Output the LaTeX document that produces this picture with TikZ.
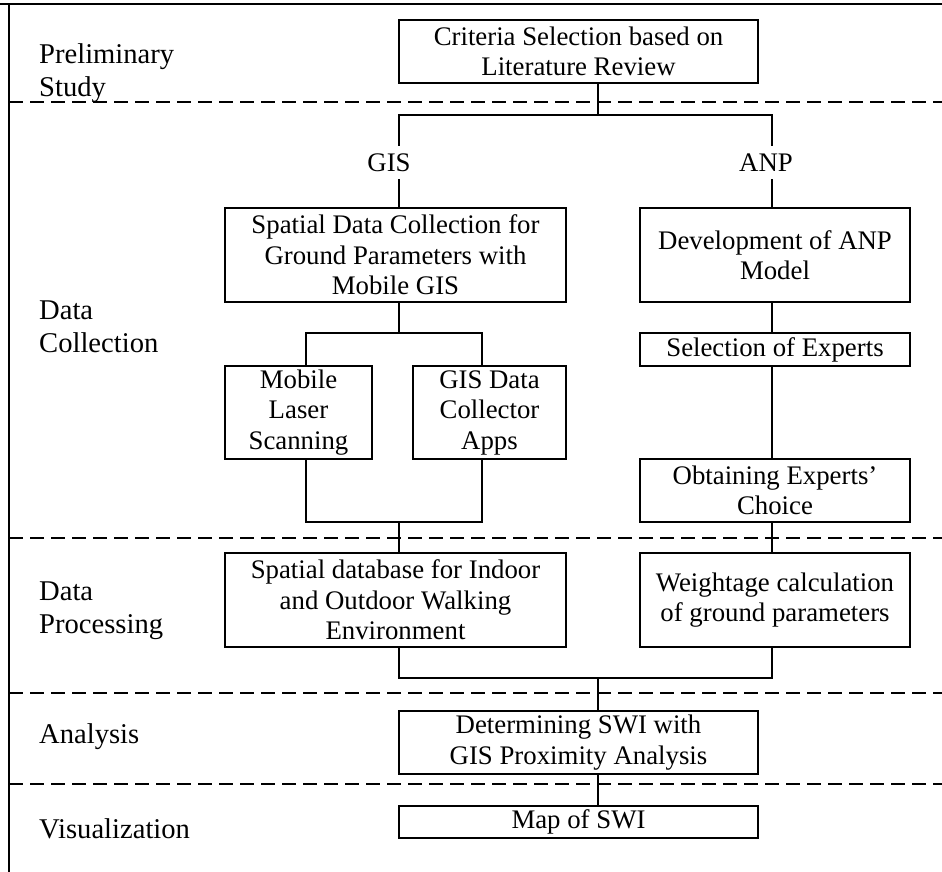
\documentclass[tikz,border=0pt]{standalone}
\usepackage{fontspec}
\setmainfont{Liberation Serif}

\tikzset{
  procbox/.style={draw, line width=1.8pt, inner sep=0pt, align=center},
  lbl/.style={inner xsep=4pt, inner ysep=8pt, text height=17.5pt, text depth=0pt},
  stage/.style={anchor=west, align=left, inner sep=0pt, font=\fontsize{28.6}{33}\selectfont},
  link/.style={line width=1.5pt},
  sepline/.style={line width=2.2pt, dash pattern=on 14pt off 7pt}
}

\begin{document}
\begin{tikzpicture}[x=1pt, y=-1pt, font=\fontsize{26.8}{30.5}\selectfont]
        \useasboundingbox (0,0) rectangle (942,872);

        % Frame and stage separators
        \draw[line width=1.8pt] (0,4) -- (942,4);
        \draw[line width=1.8pt] (9,4) -- (9,872);
        \foreach \y in {102,538,693,784}
            \draw[sepline] (9,\y) -- (942,\y);

        % Stage labels
        \node (lprelim) [stage] at (39, 73.5) {Preliminary\\Study};
        \node (lcoll) [stage] at (39, 327) {Data\\Collection};
        \node (lproc) [stage] at (39, 610.5) {Data\\Processing};
        \node (lanal) [stage, anchor=base west] at (39, 743) {Analysis};
        \node (lvis) [stage, anchor=base west] at (39, 838) {Visualization};

        % Nodes
        \node (crit) [procbox, minimum width=359, minimum height=63] at (578.5, 51.5) {Criteria Selection based on\\Literature Review};
        \node (gis) [lbl] at (389, 162.5) {GIS};
        \node (anp) [lbl] at (766, 162.5) {ANP};
        \node (sdc) [procbox, minimum width=341, minimum height=94] at (395.5, 255) {Spatial Data Collection for\\Ground Parameters with\\Mobile GIS};
        \node (dev) [procbox, minimum width=270, minimum height=94] at (775, 255) {Development of ANP\\Model};
        \node (mls) [procbox, minimum width=147, minimum height=93] at (298.5, 412.5) {Mobile\\Laser\\Scanning};
        \node (gdc) [procbox, minimum width=153, minimum height=93] at (489.5, 412.5) {GIS Data\\Collector\\Apps};
        \node (soe) [procbox, minimum width=270, minimum height=33] at (775, 349.5) {Selection of Experts};
        \node (oec) [procbox, minimum width=270, minimum height=63] at (775, 490.5) {Obtaining Experts'\\Choice};
        \node (sdb) [procbox, minimum width=341, minimum height=94] at (395.5, 600) {Spatial database for Indoor\\and Outdoor Walking\\Environment};
        \node (wcg) [procbox, minimum width=270, minimum height=94] at (775, 600) {Weightage calculation\\of ground parameters};
        \node (det) [procbox, minimum width=359, minimum height=63] at (578.5, 742.5) {Determining SWI with\\GIS Proximity Analysis};
        \node (map) [procbox, minimum width=359, minimum height=32] at (578.5, 822) {Map of SWI};

        % Joints
        \coordinate (j1) at (598, 115);
        \coordinate (g0) at (399, 115);
        \coordinate (a0) at (772, 115);
        \coordinate (j2) at (399, 333);
        \coordinate (c1) at (306, 333);
        \coordinate (c2) at (482, 333);
        \coordinate (d1) at (306, 522);
        \coordinate (d2) at (482, 522);
        \coordinate (j3) at (399, 522);
        \coordinate (j4) at (598, 678);

        % Edges
        \draw[link] (j1 |- crit.south) -- (j1);
        \draw[link] (g0 |- gis.north) -- (g0) -- (a0) -- (a0 |- anp.north);
        \draw[link] (g0 |- gis.south) -- (g0 |- sdc.north);
        \draw[link] (a0 |- anp.south) -- (a0 |- dev.north);
        \draw[link] (j2 |- sdc.south) -- (j2);
        \draw[link] (c1 |- mls.north) -- (c1) -- (c2) -- (c2 |- gdc.north);
        \draw[link] (d1 |- mls.south) -- (d1) -- (d2) -- (d2 |- gdc.south);
        \draw[link] (j3) -- (j3 |- sdb.north);
        \draw[link] (a0 |- dev.south) -- (a0 |- soe.north);
        \draw[link] (a0 |- soe.south) -- (a0 |- oec.north);
        \draw[link] (a0 |- oec.south) -- (a0 |- wcg.north);
        \draw[link] (g0 |- sdb.south) |- (j4) -| (a0 |- wcg.south);
        \draw[link] (j4) -- (j4 |- det.north);
        \draw[link] (j4 |- det.south) -- (j4 |- map.north);
    \end{tikzpicture}
\end{document}
